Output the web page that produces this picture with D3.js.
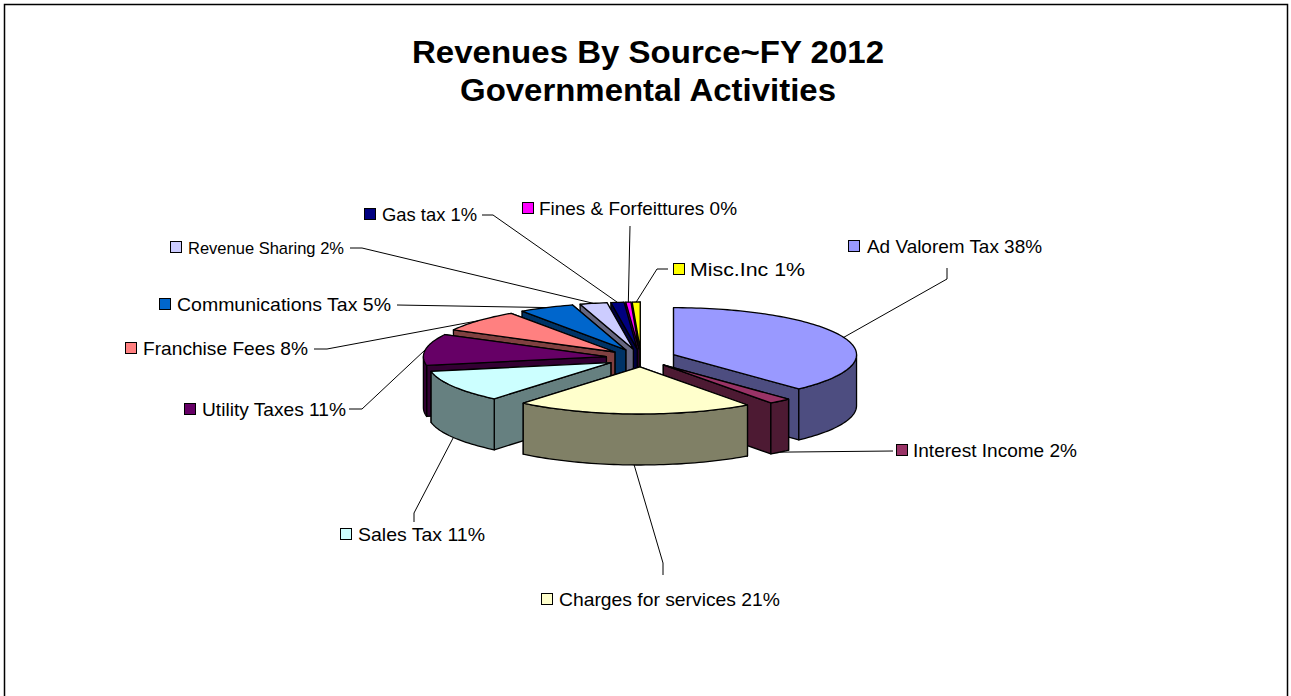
<!DOCTYPE html>
<html>
<head>
<meta charset="utf-8">
<script src="https://cdn.jsdelivr.net/npm/d3@7"></script>
<style>
  html, body { margin: 0; padding: 0; background: #fff; overflow: hidden; }
  svg { display: block; font-family: "Liberation Sans", Arial, sans-serif; }
</style>
</head>
<body>
<svg></svg>
<script>
// chart data
let categories = ["Ad Valorem Tax", "Interest Income", "Charges for services", "Sales Tax", "Utility Taxes",
  "Franchise Fees", "Communications Tax", "Revenue Sharing", "Gas tax", "Fines & Forfeittures", "Misc.Inc"];
let shownPercent = [38, 2, 21, 11, 11, 8, 5, 2, 1, 0, 1];
let values = [38, 2, 21, 11, 10.8, 7.6, 4.9, 2.4, 1.15, 0.45, 0.7];
let colors = ["#9999FF", "#993366", "#FFFFCC", "#CCFFFF", "#660066", "#FF8080", "#0066CC", "#CCCCFF", "#000080", "#FF00FF", "#FFFF00"];
let titleLines = ["Revenues By Source~FY 2012", "Governmental Activities"];
// back to front
let drawOrder = [10, 9, 8, 7, 6, 5, 4, 3, 0, 1, 2];

// label layout: key left edge, text start, key baseline, text size and width, leader start points
let keyX = [848, 896, 541, 340, 184, 125, 159, 170, 364, 522, 673];
let textX = [867, 913, 559, 358, 202, 143, 177, 188, 382, 539, 690];
let labelY = [252, 456, 605, 540, 415, 354, 310, 253, 220, 214, 275];
let labelSize = [18.5, 18.5, 18.5, 18.5, 18.5, 18.5, 18.5, 17, 18.5, 18.5, 18.5];
let labelWidth = [175, 164, 221, 127, 144, 165, 214, 156, 95, 198, 115];
let leaders = [
  [[947, 268], [947, 279]],
  [[893, 451]],
  [[663, 575], [663, 563]],
  [[414, 522], [414, 513]],
  [[349, 409], [362, 409]],
  [[314, 349], [327, 349]],
  [[397, 305]],
  [[350, 248], [362, 248]],
  [[482, 215], [493, 215]],
  [[630, 226]],
  [[668, 269], [657, 269]]
];
let titleWidth = [472, 376];

let width = 1291;
let height = 696;
let cx = 641, cy = 358;       // centre of the un-exploded pie
let rx = 183, ry = 47;        // top face radii
let depth = 51;
let explode = 35 / 183;       // explosion as share of the radius

let svg = d3.select("svg").attr("width", width).attr("height", height);

svg.append("rect")
   .attr("x", 4.5).attr("y", 4.5)
   .attr("width", 1283).attr("height", 720)
   .attr("fill", "#fff").attr("stroke", "#000").attr("stroke-width", 1.5);

svg.selectAll("text.title")
   .data(titleLines)
   .enter()
   .append("text")
   .attr("class", "title")
   .attr("x", 648)
   .attr("y", (d, i) => 63 + i * 38)
   .attr("text-anchor", "middle")
   .attr("font-size", 31.5)
   .attr("font-weight", "bold")
   .attr("textLength", (d, i) => titleWidth[i])
   .attr("lengthAdjust", "spacingAndGlyphs")
   .text(d => d);

// pie layout starts at 12 o'clock and goes clockwise, in source order
let arcs = d3.pie().sort(null).value(d => d)(values);

let xScale = d3.scaleLinear().domain([-1, 1]).range([cx - rx, cx + rx]);
let yScale = d3.scaleLinear().domain([-1, 1]).range([cy - ry, cy + ry]);

// projected point: angle a (clockwise from top), r in pie radii, explosion by mid angle, drop = depth offset
function pt(arc, a, r, drop) {
  let mid = (arc.startAngle + arc.endAngle) / 2;
  let ux = Math.sin(mid) * explode + Math.sin(a) * r;
  let uy = -Math.cos(mid) * explode - Math.cos(a) * r;
  return [xScale(ux), yScale(uy) + drop];
}

function arcPoints(arc, a0, a1, drop) {
  let n = Math.max(2, Math.ceil((a1 - a0) * 40));
  return d3.range(n + 1).map(i => pt(arc, a0 + (a1 - a0) * i / n, 1, drop));
}

let line = d3.line();
let darker = c => {
  let k = d3.rgb(c);
  return d3.rgb(k.r * 0.5, k.g * 0.5, k.b * 0.5).formatHex();
};

function radialWall(arc, a) {
  return line([pt(arc, 0, 0, 0), pt(arc, a, 1, 0), pt(arc, a, 1, depth), pt(arc, 0, 0, depth)]) + "Z";
}

let pieG = svg.append("g").attr("stroke", "#000").attr("stroke-width", 1.3).attr("stroke-linejoin", "round");

drawOrder.forEach(i => {
  let arc = arcs[i];
  let g = pieG.append("g");
  let side = darker(colors[i]);

  // hidden radial wall first, visible one over it
  let walls = Math.sin(arc.startAngle) < 0 ? [arc.endAngle, arc.startAngle] : [arc.startAngle, arc.endAngle];
  walls.forEach(a => g.append("path").attr("d", radialWall(arc, a)).attr("fill", side));

  // outer wall, only the part that faces the viewer
  let a0 = Math.max(arc.startAngle, Math.PI / 2);
  let a1 = Math.min(arc.endAngle, Math.PI * 1.5);
  if (a1 > a0) {
    let pts = arcPoints(arc, a0, a1, 0).concat(arcPoints(arc, a0, a1, depth).reverse());
    g.append("path").attr("d", line(pts) + "Z").attr("fill", side);
  }

  // top face
  let top = [pt(arc, 0, 0, 0)].concat(arcPoints(arc, arc.startAngle, arc.endAngle, 0));
  g.append("path").attr("d", line(top) + "Z").attr("fill", colors[i]);
});

// leader lines run from the label to the outer edge of the slice
let leaderG = svg.append("g").attr("fill", "none").attr("stroke", "#000").attr("stroke-width", 1);
arcs.forEach((arc, i) => {
  let mid = (arc.startAngle + arc.endAngle) / 2;
  let end = pt(arc, mid, 1, Math.cos(mid) < 0 ? depth : 0);
  leaderG.append("path").attr("d", line(leaders[i].concat([end])));
});

let labels = svg.selectAll("g.label")
  .data(categories)
  .enter()
  .append("g")
  .attr("class", "label");

labels.append("rect")
  .attr("x", (d, i) => keyX[i] + 0.5)
  .attr("y", (d, i) => labelY[i] - 11.5)
  .attr("width", 11).attr("height", 11)
  .attr("fill", (d, i) => colors[i])
  .attr("stroke", "#000").attr("stroke-width", 1);

labels.append("text")
  .attr("x", (d, i) => textX[i])
  .attr("y", (d, i) => labelY[i] + 1)
  .attr("font-size", (d, i) => labelSize[i])
  .attr("textLength", (d, i) => labelWidth[i])
  .attr("lengthAdjust", "spacingAndGlyphs")
  .text((d, i) => d + " " + shownPercent[i] + "%");
</script>
</body>
</html>
